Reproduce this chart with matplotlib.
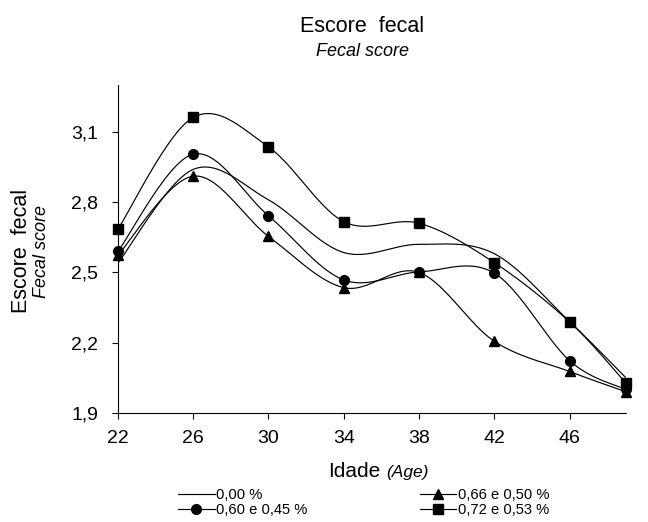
import numpy as np
import matplotlib.pyplot as plt

plt.rcParams['font.family'] = ['Liberation Sans', 'DejaVu Sans']

idade = [22, 26, 30, 34, 38, 42, 46, 49]
tick_idade = [22, 26, 30, 34, 38, 42, 46]
controle = [2.54, 2.94, 2.81, 2.585, 2.62, 2.58, 2.29, 2.05]
nivel_060 = [2.59, 3.005, 2.742, 2.468, 2.502, 2.497, 2.123, 2.0]
nivel_066 = [2.574, 2.911, 2.654, 2.435, 2.5, 2.206, 2.077, 1.99]
nivel_072 = [2.685, 3.162, 3.036, 2.717, 2.71, 2.542, 2.289, 2.027]
rotulos = ['0,00 %', '0,66 e 0,50 %', '0,60 e 0,45 %', '0,72 e 0,53 %']
y_ticks = [1.9, 2.2, 2.5, 2.8, 3.1]


def suavizar(x, y, n=30):
    # curva suavizada tipo Excel (Catmull-Rom / Bezier)
    p = np.column_stack([x, y]).astype(float)
    p = np.vstack([p[0], p, p[-1]])
    out = []
    t = np.linspace(0, 1, n)[:, None]
    for i in range(1, len(p) - 2):
        p0, p1, p2, p3 = p[i - 1], p[i], p[i + 1], p[i + 2]
        c1 = p1 + (p2 - p0) / 6
        c2 = p2 - (p3 - p1) / 6
        seg = ((1 - t) ** 3) * p1 + 3 * ((1 - t) ** 2) * t * c1 + 3 * (1 - t) * t ** 2 * c2 + t ** 3 * p2
        out.append(seg)
    out = np.vstack(out)
    return out[:, 0], out[:, 1]


fig = plt.figure(figsize=(6.48, 5.22), dpi=100)
ax = fig.add_axes([0.182, 0.209, 0.784, 0.628])

series = [(controle, None), (nivel_066, '^'), (nivel_060, 'o'), (nivel_072, 's')]
handles = []
for (vals, mk), lab in zip(series, rotulos):
    sx, sy = suavizar(idade, vals)
    ax.plot(sx, sy, color='black', lw=0.85)
    if mk:
        ax.plot(idade, vals, linestyle='none', marker=mk, color='black', ms=7, clip_on=False)
    h, = ax.plot([], [], color='black', lw=0.85, marker=mk, ms=7, label=lab)
    handles.append(h)

ax.set_xlim(22, 49)
ax.set_ylim(1.9, 3.3)
ax.set_xticks(tick_idade)
ax.set_yticks(y_ticks)
ax.set_yticklabels([f'{v:.1f}'.replace('.', ',') for v in y_ticks])
ax.tick_params(labelsize=14, direction='out', length=4.3, width=0.8)
ax.tick_params(axis='x', pad=8)
ax.tick_params(axis='y', pad=10)
ax.spines['top'].set_visible(False)
ax.spines['right'].set_visible(False)
for s in ['left', 'bottom']:
    ax.spines[s].set_linewidth(0.8)

# titulo
fig.text(0.559, 0.9387, 'Escore  fecal', ha='center', va='baseline', fontsize=15.5)
fig.text(0.559, 0.8927, 'Fecal score', ha='center', va='baseline', fontsize=13, style='italic')

# eixo x
fig.text(328 / 648, 1 - 477 / 522, 'Idade', ha='left', va='baseline', fontsize=15)
fig.text(386 / 648, 1 - 477 / 522, '(Age)', ha='left', va='baseline', fontsize=12.5, style='italic')

# eixo y
fig.text(0.033, 0.519, 'Escore  fecal', rotation=90, ha='center', va='center', fontsize=15.5)
fig.text(0.064, 0.519, 'Fecal score', rotation=90, ha='center', va='center', fontsize=13, style='italic')

fig.legend(handles=[handles[0], handles[2], handles[1], handles[3]],
           labels=[rotulos[0], rotulos[2], rotulos[1], rotulos[3]],
           ncol=2, frameon=False, fontsize=10.6, handlelength=2.5,
           handletextpad=0.1, columnspacing=7.6, labelspacing=0.1,
           borderpad=0, borderaxespad=0,
           loc='upper left', bbox_to_anchor=(178 / 648, 1 - 488 / 522))

fig.savefig('out.png', dpi=100)
